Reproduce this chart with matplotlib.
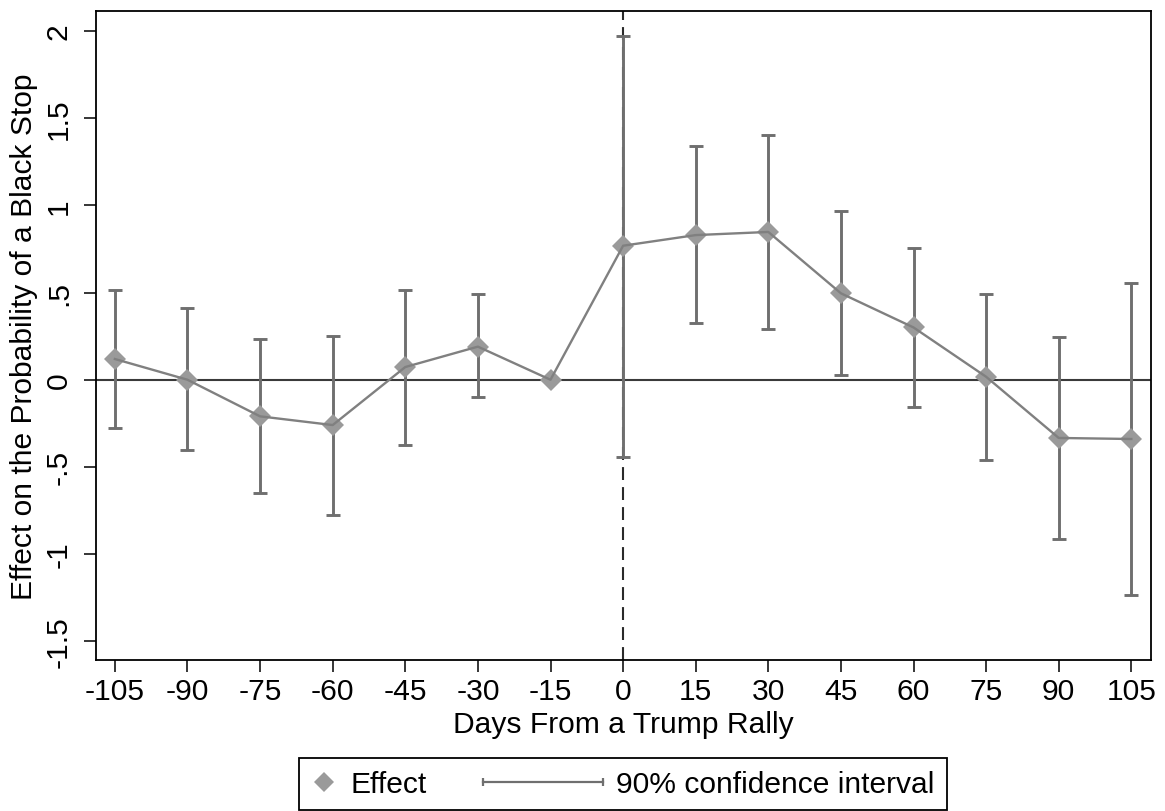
import matplotlib
matplotlib.use('Agg')
import matplotlib.pyplot as plt
import numpy as np
from matplotlib.lines import Line2D
from matplotlib.legend_handler import HandlerLine2D

plt.rcParams['font.family'] = ['Liberation Sans', 'DejaVu Sans']
plt.rcParams['font.size'] = 21.6

days = [-105, -90, -75, -60, -45, -30, -15, 0, 15, 30, 45, 60, 75, 90, 105]
effect = [0.119, 0.0, -0.21, -0.26, 0.073, 0.19, 0.0, 0.769, 0.830, 0.848,
          0.496, 0.30, 0.017, -0.334, -0.340]
ci_low = [-0.279, -0.403, -0.65, -0.774, -0.373, -0.099, np.nan, -0.445, 0.324,
          0.289, 0.029, -0.155, -0.459, -0.914, -1.237]
ci_high = [0.515, 0.41, 0.232, 0.251, 0.515, 0.49, np.nan, 1.97, 1.341, 1.402,
           0.966, 0.754, 0.493, 0.247, 0.553]

yticks = [-1.5, -1, -0.5, 0, 0.5, 1, 1.5, 2]
ytick_labels = ['-1.5', '-1', '-.5', '0', '.5', '1', '1.5', '2']

ci_color = '#6f6f6f'
line_color = '#808080'
marker_color = '#9a9a9a'


class SizedHandler(HandlerLine2D):
    # legend key with its own width (in units of font size)
    def __init__(self, length, **kw):
        super().__init__(**kw)
        self.length = length

    def legend_artist(self, legend, orig_handle, fontsize, handlebox):
        handlebox.width = self.length * fontsize
        return super().legend_artist(legend, orig_handle, fontsize, handlebox)


x = np.array(days)
y = np.array(effect)
lo = np.array(ci_low)
hi = np.array(ci_high)
has_ci = ~np.isnan(lo)

fig = plt.figure(figsize=(11.65, 8.12), dpi=100)
ax = fig.add_axes([96 / 1165, 151 / 812, 1054.7 / 1165, 648.7 / 812])

ax.axhline(0, color='#3a3a3a', lw=1.5, zorder=1)
ax.axvline(0, color='#2a2a2a', lw=1.5, dashes=(6.2, 3.4), zorder=1)

ax.errorbar(x[has_ci], y[has_ci],
            yerr=[y[has_ci] - lo[has_ci], hi[has_ci] - y[has_ci]],
            fmt='none', ecolor=ci_color, elinewidth=2.1, capsize=4.7,
            capthick=2.1, zorder=2)
ax.plot(x, y, ls='none', marker='D', ms=10.8, mew=0, color=marker_color, zorder=3)
ax.plot(x, y, color=line_color, lw=1.7, zorder=4)

ax.set_xlim(-108.9, 109.0)
ax.set_ylim(-1.608, 2.114)
ax.set_xticks(days)
ax.set_xticklabels([str(d) for d in days])
ax.set_yticks(yticks)
ax.set_yticklabels(ytick_labels, rotation=90, va='center')

ax.tick_params(axis='both', direction='out', length=8.6, width=1.1, color='black')
ax.tick_params(axis='x', pad=3.5)
ax.tick_params(axis='y', pad=8)
for sp in ax.spines.values():
    sp.set_linewidth(1.3)
    sp.set_color('black')

ax.set_xlabel('Days From a Trump Rally', labelpad=4)
ax.set_ylabel('Effect on the Probability of a Black Stop', labelpad=5)

effect_key = Line2D([], [], ls='none', marker='D', ms=10.5, mew=0, color=marker_color)
ci_key = Line2D([], [], color=ci_color, lw=1.6, marker='|', ms=6, mew=1.6)
leg = fig.legend([effect_key, ci_key], ['Effect', '90% confidence interval'],
                 handler_map={effect_key: SizedHandler(0.87, numpoints=1),
                              ci_key: SizedHandler(4.0, numpoints=2, marker_pad=0)},
                 loc='upper center', bbox_to_anchor=(623 / 1165, 53 / 812),
                 bbox_transform=fig.transFigure, borderaxespad=0, ncol=2,
                 fancybox=False, edgecolor='black', framealpha=1,
                 borderpad=0.4, handletextpad=0.45, columnspacing=1.86)
leg.get_frame().set_linewidth(1.3)

fig.savefig('out.png', dpi=100)
